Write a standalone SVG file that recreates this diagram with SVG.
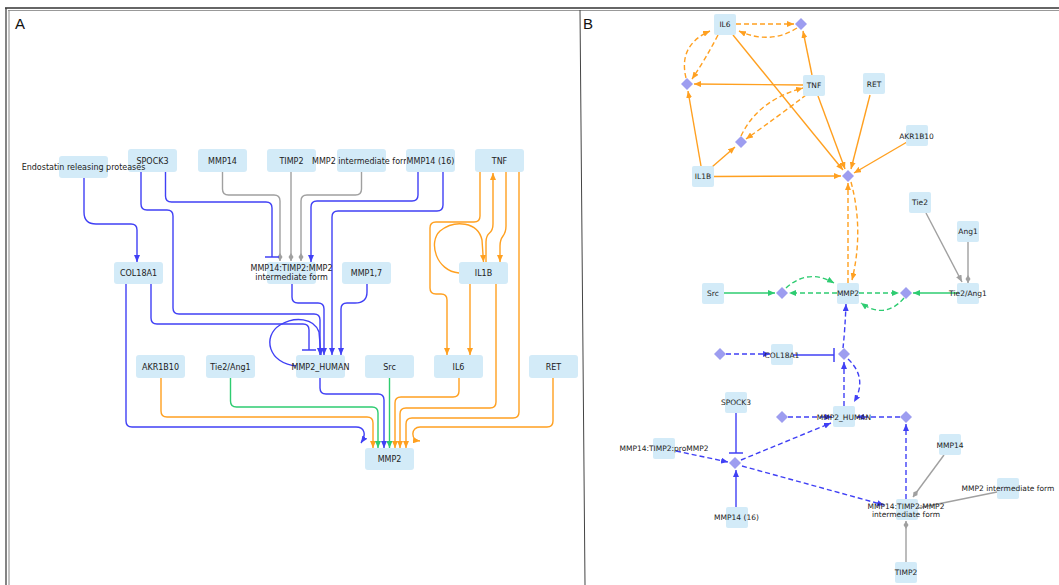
<svg xmlns="http://www.w3.org/2000/svg" width="1059" height="585" viewBox="0 0 1059 585">
<defs>
<style>
.n rect{fill:#d3ebf8;}
text{font-family:"DejaVu Sans","Liberation Sans",sans-serif;fill:#222;text-anchor:middle;}
.a text{font-size:8px;}
.b text{font-size:7.5px;}
.lbl{font-family:"Liberation Sans","DejaVu Sans",sans-serif;font-size:15px;text-anchor:start;fill:#111;}
.e path{fill:none;stroke-width:1.4;}
.o{stroke:#ffa020;}
.bl{stroke:#4040f5;}
.g{stroke:#2ecc71;}
.gr{stroke:#a0a0a0;}
.d{stroke-dasharray:5 3;}
.dia{fill:#9d9df0;}
</style>
<marker id="ao" markerUnits="userSpaceOnUse" markerWidth="8" markerHeight="6" refX="7" refY="3" orient="auto"><path d="M0,0 L7,3 L0,6 z" fill="#ffa020"/></marker>
<marker id="ab" markerUnits="userSpaceOnUse" markerWidth="8" markerHeight="6" refX="7" refY="3" orient="auto"><path d="M0,0 L7,3 L0,6 z" fill="#4040f5"/></marker>
<marker id="ag" markerUnits="userSpaceOnUse" markerWidth="8" markerHeight="6" refX="7" refY="3" orient="auto"><path d="M0,0 L7,3 L0,6 z" fill="#2ecc71"/></marker>
<marker id="agr" markerUnits="userSpaceOnUse" markerWidth="8" markerHeight="6" refX="7" refY="3" orient="auto"><path d="M0,0 L7,3 L0,6 z" fill="#a0a0a0"/></marker>
<marker id="dgr" markerUnits="userSpaceOnUse" markerWidth="9" markerHeight="6" refX="8" refY="3" orient="auto"><path d="M0,3 L4,0.5 L8,3 L4,5.5 z" fill="#a0a0a0"/></marker>
<marker id="tb" markerUnits="userSpaceOnUse" markerWidth="4" markerHeight="14" refX="2" refY="7" orient="auto"><path d="M2,0 V14" stroke="#4040f5" stroke-width="1.5"/></marker>
</defs>
<rect x="0" y="0" width="1059" height="585" fill="#fff"/>
<g id="frame" fill="none">
<path d="M5,8 H1059" stroke="#333" stroke-width="1.5"/>
<path d="M8,10.5 H1059" stroke="#999" stroke-width="1"/>
<path d="M6,8 V585" stroke="#333" stroke-width="1.2"/>
<path d="M9,10 V585" stroke="#888" stroke-width="1"/>
<path d="M580,10 L585,585" stroke="#444" stroke-width="1"/>
</g>
<text class="lbl" x="15" y="29">A</text>
<text class="lbl" x="583" y="29">B</text>

<g id="connectors-A" class="e">
<path class="gr" d="M222.5,172 V189 Q222.5,195 228.5,195 H274 Q280,195 280,201 V261" marker-end="url(#dgr)"/>
<path class="gr" d="M291,172 V261" marker-end="url(#dgr)"/>
<path class="gr" d="M361.5,172 V189 Q361.5,195 355.5,195 H307 Q301,195 301,201 V261" marker-end="url(#dgr)"/>
<path class="bl" d="M165.5,172 V196 Q165.5,202 171.5,202 H266 Q272,202 272,208 V257" marker-end="url(#tb)"/>
<path class="bl" d="M418,172 V195 Q418,201 412,201 H317 Q311,201 311,207 V262" marker-end="url(#ab)"/>
<path class="bl" d="M84,178 V212 Q84,224 96,224 H131 Q137,224 137,230 V262" marker-end="url(#ab)"/>
<path class="bl" d="M141,172 V204 Q141,210 147,210 H167 Q173,210 173,216 V308 Q173,314 179,314 H314 Q320,314 320,320 V355" marker-end="url(#ab)"/>
<path class="bl" d="M151,284 V318 Q151,324 157,324 H303 Q309,324 309,330 V350" marker-end="url(#tb)"/>
<path class="bl" d="M292,284 V297 Q292,303 298,303 H318 Q324,303 324,309 V355" marker-end="url(#ab)"/>
<path class="bl" d="M297,366 C268,364 262,336 280,325 C295,316 314,318 319,332 L321,355" marker-end="url(#ab)"/>
<path class="bl" d="M443,172 V205 Q443,211 437,211 H338 Q332,211 332,217 V355" marker-end="url(#ab)"/>
<path class="bl" d="M367,284 V292 Q367,303 355,303 H347 Q341,303 341,309 V355" marker-end="url(#ab)"/>
<path class="bl" d="M320,378 V388 Q320,394 326,394 H378 Q384,394 384,400 V448" marker-end="url(#ab)"/>
<path class="bl" d="M126,284 V421 Q126,427 132,427 H356 C364,427 367,434 361,443" marker-end="url(#ab)"/>
<path class="o" d="M506,172 V226 Q506,232 503,236 Q500,240 500,246 V262" marker-end="url(#ao)"/>
<path class="o" d="M486,262 V242 Q486,236 489.5,233 Q493,230 493,224 V173" marker-end="url(#ao)"/>
<path class="o" d="M459,273 C436,271 428,242 440,231 C455,219 478,222 482,240 L483.5,262" marker-end="url(#ao)"/>
<path class="o" d="M480,172 V216 Q480,222 474,222 H436 Q430,222 430,228 V288 Q430,294 436,294 H441 Q447,294 447,300 V355" marker-end="url(#ao)"/>
<path class="o" d="M470,284 V355" marker-end="url(#ao)"/>
<path class="o" d="M496,284 V402 Q496,408 490,408 H406 Q400,408 400,414 V448" marker-end="url(#ao)"/>
<path class="o" d="M519,172 V412 Q519,418 513,418 H412 Q406,418 406,424 V448" marker-end="url(#ao)"/>
<path class="o" d="M459,378 V391 Q459,397 453,397 H401 Q395,397 395,403 V448" marker-end="url(#ao)"/>
<path class="o" d="M161,378 V411 Q161,417 167,417 H367 Q373,417 373,423 V448" marker-end="url(#ao)"/>
<path class="o" d="M553,378 V421 Q553,427 547,427 H420 C411,427 410,440 420,441" marker-end="url(#ao)"/>
<path class="g" d="M230.5,378 V401 Q230.5,407 236.5,407 H372 Q378,407 378,413 V448" marker-end="url(#ag)"/>
<path class="g" d="M389.5,378 V448" marker-end="url(#ag)"/>
</g>

<g class="a">
<g id="A-spock3" class="n"><rect x="128" y="149" width="49" height="23" rx="3"/><text x="152.5" y="163.5">SPOCK3</text></g>
<g id="A-endostatin" class="n"><rect x="59" y="156" width="49" height="22" rx="3"/><text x="83.5" y="170">Endostatin releasing proteases</text></g>
<g id="A-mmp14" class="n"><rect x="198" y="149" width="49" height="23" rx="3"/><text x="222.5" y="163.5">MMP14</text></g>
<g id="A-timp2" class="n"><rect x="267" y="149" width="49" height="23" rx="3"/><text x="291.5" y="163.5">TIMP2</text></g>
<g id="A-mmp2int" class="n"><rect x="337" y="149" width="49" height="23" rx="3"/><text x="361.5" y="163.5">MMP2 intermediate form</text></g>
<g id="A-mmp14-16" class="n"><rect x="406" y="149" width="49" height="23" rx="3"/><text x="430.5" y="163.5">MMP14 (16)</text></g>
<g id="A-tnf" class="n"><rect x="475" y="149" width="49" height="23" rx="3"/><text x="499.5" y="163.5">TNF</text></g>
<g id="A-col18a1" class="n"><rect x="114" y="262" width="49" height="22" rx="3"/><text x="138.5" y="276">COL18A1</text></g>
<g id="A-complex" class="n"><rect x="267" y="262" width="49" height="22" rx="3"/><text x="291.5" y="270.5">MMP14:TIMP2:MMP2</text><text x="291.5" y="280">intermediate form</text></g>
<g id="A-mmp17" class="n"><rect x="342" y="262" width="49" height="22" rx="3"/><text x="366.5" y="276">MMP1,7</text></g>
<g id="A-il1b" class="n"><rect x="459" y="262" width="49" height="22" rx="3"/><text x="483.5" y="276">IL1B</text></g>
<g id="A-akr1b10" class="n"><rect x="136" y="355" width="49" height="23" rx="3"/><text x="160.5" y="369.5">AKR1B10</text></g>
<g id="A-tie2ang1" class="n"><rect x="206" y="355" width="49" height="23" rx="3"/><text x="230.5" y="369.5">Tie2/Ang1</text></g>
<g id="A-mmp2human" class="n"><rect x="296" y="355" width="49" height="23" rx="3"/><text x="320.5" y="369.5">MMP2_HUMAN</text></g>
<g id="A-src" class="n"><rect x="365" y="355" width="49" height="23" rx="3"/><text x="389.5" y="369.5">Src</text></g>
<g id="A-il6" class="n"><rect x="434" y="355" width="49" height="23" rx="3"/><text x="458.5" y="369.5">IL6</text></g>
<g id="A-ret" class="n"><rect x="529" y="355" width="49" height="23" rx="3"/><text x="553.5" y="369.5">RET</text></g>
<g id="A-mmp2" class="n"><rect x="365" y="448" width="49" height="22" rx="3"/><text x="389.5" y="462">MMP2</text></g>
</g>

<g id="connectors-B" class="e">
<path class="o d" d="M736,24 L794,24" marker-end="url(#ao)"/>
<path class="o d" d="M797,28 Q770,45 739,31" marker-end="url(#ao)"/>
<path class="o" d="M812,75 L803,31" marker-end="url(#ao)"/>
<path class="o d" d="M718,35 Q705,60 692,79" marker-end="url(#ao)"/>
<path class="o d" d="M686,78 Q678,45 710,31" marker-end="url(#ao)"/>
<path class="o" d="M803,85 L694,84" marker-end="url(#ao)"/>
<path class="o" d="M701,166 L688,91" marker-end="url(#ao)"/>
<path class="o" d="M712,167 L735,147" marker-end="url(#ao)"/>
<path class="o d" d="M741,136 Q758,100 803,88" marker-end="url(#ao)"/>
<path class="o d" d="M806,95 Q780,115 746,139" marker-end="url(#ao)"/>
<path class="o" d="M733,35 L843,170" marker-end="url(#ao)"/>
<path class="o" d="M818,96 L845,169" marker-end="url(#ao)"/>
<path class="o" d="M870,95 L851,169" marker-end="url(#ao)"/>
<path class="o" d="M907,142 L854,173" marker-end="url(#ao)"/>
<path class="o" d="M714,176.5 L841,176" marker-end="url(#ao)"/>
<path class="o d" d="M848,283 L848,183" marker-end="url(#ao)"/>
<path class="o d" d="M851,182 Q864,230 852,280" marker-end="url(#ao)"/>
<path class="g" d="M723,293 L775,293" marker-end="url(#ag)"/>
<path class="g d" d="M837,293 L789,293" marker-end="url(#ag)"/>
<path class="g d" d="M786,288 Q808,268 834,283" marker-end="url(#ag)"/>
<path class="g d" d="M859,293 L899,293" marker-end="url(#ag)"/>
<path class="g d" d="M904,298 Q885,320 861,303" marker-end="url(#ag)"/>
<path class="g" d="M957,293 L913,293" marker-end="url(#ag)"/>
<path class="gr" d="M926,213 L962,282" marker-end="url(#agr)"/>
<path class="gr" d="M968,242 L968,283" marker-end="url(#dgr)"/>
<path class="gr" d="M944,455 L913,497" marker-end="url(#dgr)"/>
<path class="gr" d="M997,492 L918,508"/>
<path class="gr" d="M906,562 L906,521" marker-end="url(#dgr)"/>
<path class="bl d" d="M726,354 L770,354" marker-end="url(#ab)"/>
<path class="bl" d="M793,355 L834,355" marker-end="url(#tb)"/>
<path class="bl d" d="M843,348 Q845,330 846,304" marker-end="url(#ab)"/>
<path class="bl d" d="M844,406 L844,362" marker-end="url(#ab)"/>
<path class="bl d" d="M848,359 Q868,378 854,402" marker-end="url(#ab)"/>
<path class="bl d" d="M788,417 L832,417" marker-end="url(#ab)"/>
<path class="bl d" d="M900,417 L857,417" marker-end="url(#ab)"/>
<path class="bl d" d="M906,499 L906,424" marker-end="url(#ab)"/>
<path class="bl d" d="M741,460 L831,423" marker-end="url(#ab)"/>
<path class="bl d" d="M676,451 L728,462" marker-end="url(#ab)"/>
<path class="bl d" d="M742,466 L884,505" marker-end="url(#ab)"/>
<path class="bl" d="M736,412 L736,453" marker-end="url(#tb)"/>
<path class="bl" d="M736,507 L736,470" marker-end="url(#ab)"/>
</g>

<g id="B-diamonds">
<path id="B-d1" class="dia" d="M801,18 L807,24 L801,30 L795,24 z"/>
<path id="B-d2" class="dia" d="M687,78 L693,84 L687,90 L681,84 z"/>
<path id="B-d3" class="dia" d="M741,136 L747,142 L741,148 L735,142 z"/>
<path id="B-d4" class="dia" d="M848,170 L854,176 L848,182 L842,176 z"/>
<path id="B-d5" class="dia" d="M782,287 L788,293 L782,299 L776,293 z"/>
<path id="B-d6" class="dia" d="M906,287 L912,293 L906,299 L900,293 z"/>
<path id="B-d7" class="dia" d="M720,348 L726,354 L720,360 L714,354 z"/>
<path id="B-d8" class="dia" d="M844,348 L850,354 L844,360 L838,354 z"/>
<path id="B-d9" class="dia" d="M782,411 L788,417 L782,423 L776,417 z"/>
<path id="B-d10" class="dia" d="M906,411 L912,417 L906,423 L900,417 z"/>
<path id="B-d11" class="dia" d="M735,457 L741,463 L735,469 L729,463 z"/>
</g>

<g class="b">
<g id="B-il6" class="n"><rect x="714" y="14" width="22" height="21" rx="2"/><text x="725" y="27">IL6</text></g>
<g id="B-tnf" class="n"><rect x="803" y="75" width="22" height="21" rx="2"/><text x="814" y="88">TNF</text></g>
<g id="B-ret" class="n"><rect x="863" y="73" width="22" height="21" rx="2"/><text x="874" y="86.5">RET</text></g>
<g id="B-akr1b10" class="n"><rect x="906" y="125" width="22" height="21" rx="2"/><text x="916.5" y="138.5">AKR1B10</text></g>
<g id="B-il1b" class="n"><rect x="692" y="166" width="22" height="21" rx="2"/><text x="703" y="179">IL1B</text></g>
<g id="B-tie2" class="n"><rect x="909" y="192" width="22" height="21" rx="2"/><text x="920" y="205">Tie2</text></g>
<g id="B-ang1" class="n"><rect x="957" y="221" width="22" height="21" rx="2"/><text x="968" y="234">Ang1</text></g>
<g id="B-src" class="n"><rect x="702" y="283" width="22" height="21" rx="2"/><text x="713" y="296">Src</text></g>
<g id="B-mmp2" class="n"><rect x="837" y="283" width="22" height="21" rx="2"/><text x="848" y="296">MMP2</text></g>
<g id="B-tie2ang1" class="n"><rect x="957" y="283" width="22" height="21" rx="2"/><text x="968" y="296">Tie2/Ang1</text></g>
<g id="B-col18a1" class="n"><rect x="771" y="344" width="22" height="21" rx="2"/><text x="782" y="357.5">COL18A1</text></g>
<g id="B-spock3" class="n"><rect x="725" y="392" width="22" height="21" rx="2"/><text x="736" y="405">SPOCK3</text></g>
<g id="B-mmp2human" class="n"><rect x="833" y="406" width="22" height="21" rx="2"/><text x="844" y="419.5">MMP2_HUMAN</text></g>
<g id="B-promm2" class="n"><rect x="653" y="438" width="22" height="21" rx="2"/><text x="664" y="451">MMP14:TIMP2:proMMP2</text></g>
<g id="B-mmp14" class="n"><rect x="939" y="434" width="22" height="21" rx="2"/><text x="950" y="447.5">MMP14</text></g>
<g id="B-mmp2int" class="n"><rect x="997" y="478" width="22" height="21" rx="2"/><text x="1008" y="491">MMP2 intermediate form</text></g>
<g id="B-complex" class="n"><rect x="896" y="499" width="22" height="21" rx="2"/><text x="906" y="508.5">MMP14:TIMP2:MMP2</text><text x="906" y="517">intermediate form</text></g>
<g id="B-mmp14-16" class="n"><rect x="726" y="507" width="22" height="21" rx="2"/><text x="736.5" y="520">MMP14 (16)</text></g>
<g id="B-timp2" class="n"><rect x="895" y="562" width="22" height="21" rx="2"/><text x="906" y="575">TIMP2</text></g>
</g>
</svg>
